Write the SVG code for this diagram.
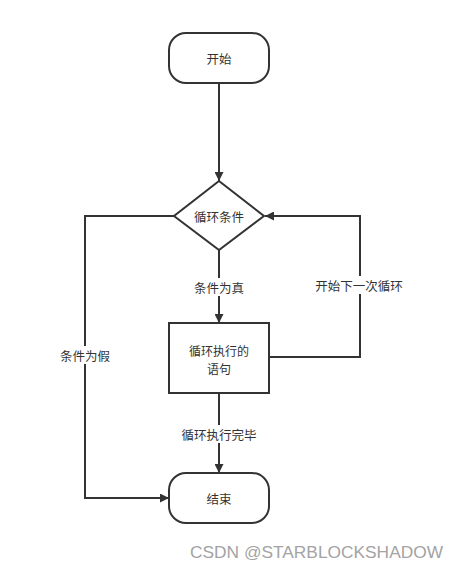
<svg xmlns="http://www.w3.org/2000/svg" width="459" height="569" viewBox="0 0 459 569">
<defs>
<style>
.shape{fill:#ffffff;stroke:#333333;stroke-width:2}
.edge{fill:none;stroke:#333333;stroke-width:2}
.t{font-family:"Noto Sans CJK SC","Noto Sans",sans-serif;font-size:12.5px;fill:#333333;text-anchor:middle;dominant-baseline:central}
.lbl{font-family:"Noto Sans CJK SC","Noto Sans",sans-serif;font-size:12.5px;fill:#333333;text-anchor:middle;dominant-baseline:central}
.wm{font-family:"Liberation Sans",Arial,sans-serif;font-size:17px;fill:#a3a3a3}
</style>
<marker id="arr" viewBox="0 0 10 10" refX="10" refY="5" markerWidth="9" markerHeight="9" markerUnits="userSpaceOnUse" orient="auto">
<path d="M0,0 L10,5 L0,10 Z" fill="#333333"/>
</marker>
</defs>
<rect width="459" height="569" fill="#ffffff"/>
<g id="connectors">
<path class="edge" d="M219,83 V181" marker-end="url(#arr)"/>
<path class="edge" d="M219,250 V323" marker-end="url(#arr)"/>
<path class="edge" d="M219,393 V473" marker-end="url(#arr)"/>
<path class="edge" d="M174,216 H85 V498 H169" marker-end="url(#arr)"/>
<path class="edge" d="M269,357 H360 V216 H265" marker-end="url(#arr)"/>
<rect x="189" y="278" width="60" height="18" fill="#ffffff"/>
<text class="lbl" x="219" y="287">条件为真</text>
<rect x="312" y="276" width="96" height="18" fill="#ffffff"/>
<text class="lbl" x="359" y="285">开始下一次循环</text>
<rect x="57" y="346" width="56" height="18" fill="#ffffff"/>
<text class="lbl" x="85" y="355">条件为假</text>
<rect x="179" y="425" width="80" height="18" fill="#ffffff"/>
<text class="lbl" x="219" y="434">循环执行完毕</text>
</g>
<g id="start">
<rect class="shape" x="169" y="33" width="100" height="50" rx="17" ry="17"/>
<text class="t" x="219" y="58">开始</text>
</g>
<g id="condition">
<polygon class="shape" points="219,181 264,216 219,250 174,216"/>
<text class="t" x="219" y="216">循环条件</text>
</g>
<g id="body">
<rect class="shape" x="169" y="323" width="100" height="70"/>
<text class="t" style="font-size:12px" x="219" y="350"><tspan x="219" y="350">循环执行的</tspan><tspan x="219" y="368">语句</tspan></text>
</g>
<g id="end">
<rect class="shape" x="169" y="473" width="100" height="50" rx="17" ry="17"/>
<text class="t" x="219" y="498">结束</text>
</g>
<text class="wm" x="190" y="558" textLength="253" lengthAdjust="spacingAndGlyphs">CSDN @STARBLOCKSHADOW</text>
</svg>
